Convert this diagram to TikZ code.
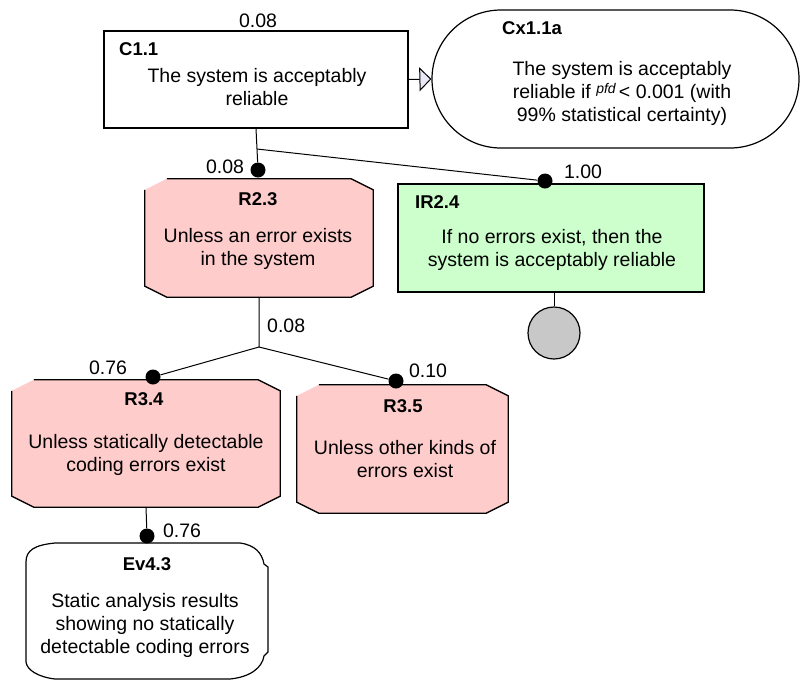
\documentclass[tikz,border=0pt]{standalone}
\usepackage{fontspec}
\setmainfont{Liberation Sans}
\usetikzlibrary{calc,arrows.meta,shapes.misc}
\definecolor{rebutpink}{RGB}{255,204,204}
\definecolor{claimgreen}{RGB}{204,255,204}
\definecolor{solgrey}{RGB}{200,200,200}
\definecolor{ctxlilac}{RGB}{232,232,246}

\begin{document}
\begin{tikzpicture}[x=1pt,y=-1pt,font=\fontsize{19.5}{23}\selectfont,
  box/.style={draw,line width=1.3pt,inner sep=0pt},
  body/.style={anchor=base,align=center,inner sep=0pt},
  tag/.style={anchor=base,inner sep=0pt,font=\fontsize{18.5}{22}\selectfont\bfseries},
  val/.style={anchor=base,inner sep=0pt},
  link/.style={line width=1pt},
  blob/.style={circle,fill=black,inner sep=0pt,minimum size=15pt}]
\useasboundingbox (0,0) rectangle (801,681);

% claim and its context
\node[box,minimum width=304pt,minimum height=97pt] (c11) at (256,79.5) {};
\node[tag,anchor=base west] (c11tag) at (119,55) {C1.1};
\node[body] (c11txt) at (257,105.5) {The system is acceptably\\reliable};
\node[val] (c11val) at (258,27) {0.08};

\node[box,rounded rectangle,line width=1.2pt,minimum width=367pt,minimum height=138pt] (cx) at (615.5,79) {};
\node[tag,anchor=base west] (cxtag) at (502,34) {Cx1.1a};
\node[body] (cxtxt) at (622,121) {The system is acceptably\\reliable if \raisebox{5pt}{\fontsize{14}{14}\selectfont\itshape pfd}\,< 0.001 (with\\99\% statistical certainty)};
\draw[link,-{Triangle[length=12pt,width=24pt,fill=ctxlilac]}] (c11.east) -- (cx.west);

% rebuttals
\node[minimum width=228pt,minimum height=118pt] (r23) at (259,238) {};
\node[minimum width=268pt,minimum height=127pt] (r34) at (146,443.5) {};
\node[minimum width=211pt,minimum height=128pt] (r35) at (402.5,449) {};
\foreach \n in {r23,r34,r35}{%
\fill[rebutpink] ($(\n.north west)+(22,0)$) -- ($(\n.north east)+(-22,0)$) -- ($(\n.north east)+(0,11)$) -- ($(\n.south east)+(0,-11)$) -- ($(\n.south east)+(-22,0)$) -- ($(\n.south west)+(22,0)$) -- ($(\n.south west)+(0,-11)$) -- ($(\n.north west)+(0,11)$) -- cycle;
\draw[line width=1.3pt] ($(\n.north west)+(22,0)$) -- ($(\n.north east)+(-22,0)$) -- ($(\n.north east)+(0,11)$) -- ($(\n.south east)+(0,-11)$) -- ($(\n.south east)+(-22,0)$) -- ($(\n.south west)+(22,0)$) -- ($(\n.south west)+(0,-11)$) -- ($(\n.north west)+(0,11)$);
}
\node[tag] (r23tag) at (258,205) {R2.3};
\node[body] (r23txt) at (258,265) {Unless an error exists\\in the system};
\node[tag] (r34tag) at (144,405) {R3.4};
\node[body] (r34txt) at (146,471) {Unless statically detectable\\coding errors exist};
\node[tag] (r35tag) at (403,412) {R3.5};
\node[body] (r35txt) at (405,477) {Unless other kinds of\\errors exist};

% inference rule and its solution
\node[box,fill=claimgreen,minimum width=306pt,minimum height=108pt] (ir24) at (551,238) {};
\node[tag,anchor=base west] (ir24tag) at (415,208) {IR2.4};
\node[body] (ir24txt) at (552,266) {If no errors exist, then the\\system is acceptably reliable};
\node[circle,draw,line width=1.2pt,fill=solgrey,minimum size=52pt,inner sep=0pt] (sol) at (554,333) {};
\draw[link] (sol.north) -- (sol.north |- ir24.south);

% evidence
\draw[line width=1.2pt] (26,562) .. controls (26,550) and (35,545) .. (55,543) -- (240,543)
  .. controls (255,545) and (262,553) .. (264,564) -- (268,567) -- (268,652) -- (264,656)
  .. controls (262,668) and (250,677) .. (230,679) -- (55,679)
  .. controls (38,677) and (27,670) .. (26,662) -- cycle;
\node[tag] (ev43tag) at (147,570) {Ev4.3};
\node[body] (ev43txt) at (145,653) {Static analysis results\\showing no statically\\detectable coding errors};

% links
\coordinate (j1) at (257,149);
\coordinate (j2) at (259,347);
\foreach \n/\x/\y in {d23/258/170,d24/545/181,d34/153/377,d35/396/381,d43/147/536}{%
\node[blob] (\n) at (\x,\y) {};
}
\draw[link] (c11.south) -- (j1) -- (d23);
\draw[link] (j1) -- (d24);
\draw[link] (r23.south) -- (j2) -- (d34);
\draw[link] (j2) -- (d35);
\draw[link] (r34.south) -- (d43);

\node[val] (v23) at (225,173) {0.08};
\node[val] (v24) at (583,178) {1.00};
\node[val,anchor=base west] (vj2) at (267,332) {0.08};
\node[val] (v34) at (108,374) {0.76};
\node[val] (v35) at (428,377) {0.10};
\node[val] (v43) at (182,537) {0.76};

\end{tikzpicture}
\end{document}
